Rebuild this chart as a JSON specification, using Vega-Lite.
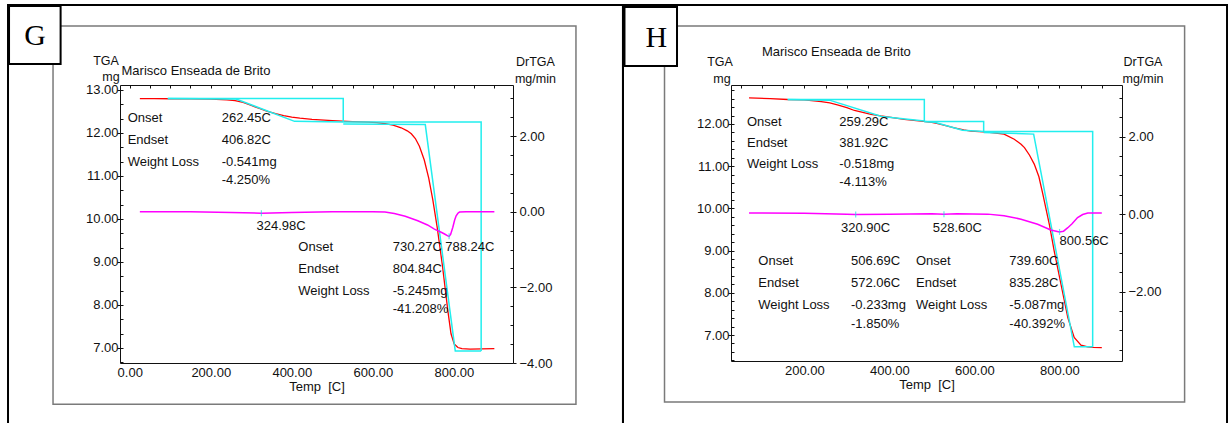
{
  "$schema": "https://vega.github.io/schema/vega-lite/v6.json",
  "background": "white",
  "autosize": {"type": "pad"},
  "padding": {"left": 6, "top": 3, "right": 0, "bottom": 0},
  "bounds": "flush",
  "spacing": 218,
  "config": {
    "view": {"stroke": "#111", "strokeWidth": 1},
    "axis": {"grid": false, "domain": false, "labelFont": "Liberation Sans", "labelFontSize": 13, "labelColor": "#111", "tickColor": "#111", "tickWidth": 1, "titleFont": "Liberation Sans", "titleFontSize": 13, "titleFontWeight": "normal", "titleColor": "#111", "labelFlush": false, "labelOverlap": false},
    "text": {"font": "Liberation Sans", "fontSize": 13, "color": "#111"}
  },
  "datasets": {
    "g_tga": [
      {"t": 25, "w": 12.8}, {"t": 60, "w": 12.8}, {"t": 100, "w": 12.795}, {"t": 150, "w": 12.79}, {"t": 200, "w": 12.785}, {"t": 240, "w": 12.77}, {"t": 260, "w": 12.75}, {"t": 280, "w": 12.71}, {"t": 300, "w": 12.64}, {"t": 320, "w": 12.57}, {"t": 340, "w": 12.5}, {"t": 360, "w": 12.45}, {"t": 380, "w": 12.405}, {"t": 400, "w": 12.37}, {"t": 420, "w": 12.345}, {"t": 450, "w": 12.315}, {"t": 500, "w": 12.285}, {"t": 550, "w": 12.265}, {"t": 590, "w": 12.25}, {"t": 610, "w": 12.24}, {"t": 630, "w": 12.215}, {"t": 650, "w": 12.18}, {"t": 670, "w": 12.12}, {"t": 685, "w": 12.05}, {"t": 695, "w": 11.98}, {"t": 705, "w": 11.87}, {"t": 715, "w": 11.69}, {"t": 727, "w": 11.37}, {"t": 738, "w": 10.95}, {"t": 748, "w": 10.45}, {"t": 759, "w": 9.8}, {"t": 772, "w": 8.9}, {"t": 785, "w": 7.88}, {"t": 793, "w": 7.33}, {"t": 801, "w": 7.09}, {"t": 810, "w": 7.01}, {"t": 820, "w": 6.985}, {"t": 840, "w": 6.975}, {"t": 870, "w": 6.98}, {"t": 900, "w": 6.985}
    ],
    "g_dr": [
      {"t": 25, "d": 0}, {"t": 150, "d": 0}, {"t": 250, "d": -0.02}, {"t": 325, "d": -0.04}, {"t": 400, "d": -0.02}, {"t": 500, "d": 0}, {"t": 600, "d": 0}, {"t": 630, "d": -0.01}, {"t": 653, "d": -0.05}, {"t": 680, "d": -0.12}, {"t": 711, "d": -0.24}, {"t": 735, "d": -0.35}, {"t": 752, "d": -0.46}, {"t": 770, "d": -0.55}, {"t": 777, "d": -0.59}, {"t": 785, "d": -0.64}, {"t": 788.2, "d": -0.65}, {"t": 792, "d": -0.6}, {"t": 797.5, "d": -0.41}, {"t": 802, "d": -0.22}, {"t": 805.7, "d": -0.11}, {"t": 810, "d": -0.04}, {"t": 814, "d": -0.01}, {"t": 830, "d": 0}, {"t": 900, "d": 0}
    ],
    "g_cyan": [
      {"s": 1, "i": 1, "t": 94, "w": 12.8}, {"s": 1, "i": 2, "t": 527, "w": 12.8}, {"s": 1, "i": 3, "t": 527, "w": 12.25},
      {"s": 2, "i": 1, "t": 94, "w": 12.8}, {"s": 2, "i": 2, "t": 262.45, "w": 12.79}, {"s": 2, "i": 3, "t": 406.82, "w": 12.27}, {"s": 2, "i": 4, "t": 527, "w": 12.255},
      {"s": 3, "i": 1, "t": 527, "w": 12.255}, {"s": 3, "i": 2, "t": 867.4, "w": 12.255}, {"s": 3, "i": 3, "t": 867.4, "w": 6.93},
      {"s": 4, "i": 1, "t": 527, "w": 12.21}, {"s": 4, "i": 2, "t": 729.5, "w": 12.195}, {"s": 4, "i": 3, "t": 803.5, "w": 6.93}, {"s": 4, "i": 4, "t": 867.4, "w": 6.93}
    ],
    "g_peaks": [{"t": 324.98, "d": -0.04}, {"t": 788.24, "d": -0.65}],
    "g_text": [
      {"t": -5, "w": 12.355, "label": "Onset"}, {"t": -5, "w": 11.836, "label": "Endset"}, {"t": -5, "w": 11.331, "label": "Weight Loss"},
      {"t": 227, "w": 12.355, "label": "262.45C"}, {"t": 227, "w": 11.836, "label": "406.82C"}, {"t": 227, "w": 11.331, "label": "-0.541mg"}, {"t": 227, "w": 10.906, "label": "-4.250%"},
      {"t": 312.9, "w": 9.836, "label": "324.98C"},
      {"t": 416.1, "w": 9.355, "label": "Onset"}, {"t": 416.1, "w": 8.843, "label": "Endset"}, {"t": 416.1, "w": 8.324, "label": "Weight Loss"},
      {"t": 649, "w": 9.355, "label": "730.27C"}, {"t": 649, "w": 8.843, "label": "804.84C"}, {"t": 649, "w": 8.324, "label": "-5.245mg"}, {"t": 649, "w": 7.899, "label": "-41.208%"},
      {"t": 778.8, "w": 9.355, "label": "788.24C"}
    ],
    "h_tga": [
      {"t": 70, "w": 12.62}, {"t": 120, "w": 12.6}, {"t": 161, "w": 12.58}, {"t": 200, "w": 12.57}, {"t": 240, "w": 12.53}, {"t": 260, "w": 12.5}, {"t": 280, "w": 12.45}, {"t": 300, "w": 12.39}, {"t": 318, "w": 12.32}, {"t": 340, "w": 12.27}, {"t": 357, "w": 12.23}, {"t": 380, "w": 12.19}, {"t": 396, "w": 12.17}, {"t": 435, "w": 12.11}, {"t": 475, "w": 12.07}, {"t": 500, "w": 12.04}, {"t": 514, "w": 12.01}, {"t": 533, "w": 11.96}, {"t": 553, "w": 11.91}, {"t": 575, "w": 11.86}, {"t": 592, "w": 11.83}, {"t": 631, "w": 11.81}, {"t": 670, "w": 11.76}, {"t": 694, "w": 11.64}, {"t": 710, "w": 11.52}, {"t": 718, "w": 11.44}, {"t": 730, "w": 11.26}, {"t": 741, "w": 11.05}, {"t": 752, "w": 10.75}, {"t": 761, "w": 10.35}, {"t": 777, "w": 9.6}, {"t": 788, "w": 8.99}, {"t": 804, "w": 8.2}, {"t": 820, "w": 7.41}, {"t": 835, "w": 6.94}, {"t": 851, "w": 6.76}, {"t": 867, "w": 6.72}, {"t": 880, "w": 6.705}, {"t": 900, "w": 6.7}
    ],
    "h_dr": [
      {"t": 70, "d": 0.03}, {"t": 200, "d": 0.02}, {"t": 300, "d": 0}, {"t": 320, "d": -0.01}, {"t": 400, "d": 0}, {"t": 500, "d": 0.01}, {"t": 528, "d": 0}, {"t": 560, "d": 0.01}, {"t": 632, "d": 0}, {"t": 670, "d": -0.04}, {"t": 710, "d": -0.13}, {"t": 749, "d": -0.26}, {"t": 780, "d": -0.41}, {"t": 800, "d": -0.46}, {"t": 810, "d": -0.44}, {"t": 820, "d": -0.35}, {"t": 830, "d": -0.25}, {"t": 843, "d": -0.09}, {"t": 855, "d": -0.01}, {"t": 867, "d": 0.03}, {"t": 900, "d": 0.03}
    ],
    "h_cyan": [
      {"s": 1, "i": 1, "t": 161, "w": 12.58}, {"s": 1, "i": 2, "t": 482.4, "w": 12.58}, {"s": 1, "i": 3, "t": 482.4, "w": 12.06},
      {"s": 2, "i": 1, "t": 161, "w": 12.58}, {"s": 2, "i": 2, "t": 259.29, "w": 12.565}, {"s": 2, "i": 3, "t": 381.92, "w": 12.18}, {"s": 2, "i": 4, "t": 482.4, "w": 12.07},
      {"s": 3, "i": 1, "t": 482.4, "w": 12.06}, {"s": 3, "i": 2, "t": 622, "w": 12.06}, {"s": 3, "i": 3, "t": 622, "w": 11.82},
      {"s": 4, "i": 1, "t": 482.4, "w": 12.06}, {"s": 4, "i": 2, "t": 506.69, "w": 12.04}, {"s": 4, "i": 3, "t": 572.06, "w": 11.85}, {"s": 4, "i": 4, "t": 622, "w": 11.82},
      {"s": 5, "i": 1, "t": 622, "w": 11.82}, {"s": 5, "i": 2, "t": 878.5, "w": 11.82}, {"s": 5, "i": 3, "t": 878.5, "w": 6.72},
      {"s": 6, "i": 1, "t": 622, "w": 11.8}, {"s": 6, "i": 2, "t": 739.6, "w": 11.76}, {"s": 6, "i": 3, "t": 835.28, "w": 6.72}, {"s": 6, "i": 4, "t": 878.5, "w": 6.72}
    ],
    "h_peaks": [{"t": 320.9, "d": -0.01}, {"t": 528.6, "d": 0}, {"t": 800.56, "d": -0.46}],
    "h_text": [
      {"t": 65.2, "w": 12.055, "label": "Onset"}, {"t": 65.2, "w": 11.557, "label": "Endset"}, {"t": 65.2, "w": 11.045, "label": "Weight Loss"},
      {"t": 282.4, "w": 12.055, "label": "259.29C"}, {"t": 282.4, "w": 11.557, "label": "381.92C"}, {"t": 282.4, "w": 11.045, "label": "-0.518mg"}, {"t": 282.4, "w": 10.626, "label": "-4.113%"},
      {"t": 286.4, "w": 9.543, "label": "320.90C"}, {"t": 502.1, "w": 9.543, "label": "528.60C"}, {"t": 800.7, "w": 9.228, "label": "800.56C"},
      {"t": 91.8, "w": 8.754, "label": "Onset"}, {"t": 91.8, "w": 8.239, "label": "Endset"}, {"t": 91.8, "w": 7.711, "label": "Weight Loss"},
      {"t": 309.9, "w": 8.754, "label": "506.69C"}, {"t": 309.9, "w": 8.239, "label": "572.06C"}, {"t": 309.9, "w": 7.711, "label": "-0.233mg"}, {"t": 309.9, "w": 7.254, "label": "-1.850%"},
      {"t": 462.8, "w": 8.754, "label": "Onset"}, {"t": 462.8, "w": 8.239, "label": "Endset"}, {"t": 462.8, "w": 7.711, "label": "Weight Loss"},
      {"t": 682.4, "w": 8.754, "label": "739.60C"}, {"t": 682.4, "w": 8.239, "label": "835.28C"}, {"t": 682.4, "w": 7.711, "label": "-5.087mg"}, {"t": 682.4, "w": 7.254, "label": "-40.392%"}
    ]
  },
  "hconcat": [
    {
      "width": 393, "height": 278,
      "resolve": {"scale": {"y": "independent"}, "axis": {"x": "independent", "y": "independent"}},
      "layer": [
        {"data": {"values": [{}]}, "mark": {"type": "rect", "fill": null, "stroke": "#000", "strokeWidth": 2},
         "encoding": {"x": {"datum": -300.4, "type": "quantitative", "scale": {"domain": [-24, 946], "nice": false, "zero": false}, "axis": null}, "x2": {"datum": 1217.4},
                      "y": {"datum": 14.976, "type": "quantitative", "scale": {"domain": [6.65, 13.115], "nice": false, "zero": false}, "axis": null}, "y2": {"datum": 4.836}}},
        {"data": {"values": [{}]}, "mark": {"type": "rect", "fill": null, "stroke": "#7a7a7a", "strokeWidth": 1.5},
         "encoding": {"x": {"datum": -189.3, "type": "quantitative", "scale": {"domain": [-24, 946], "nice": false, "zero": false}, "axis": null}, "x2": {"datum": 1101.4},
                      "y": {"datum": 14.487, "type": "quantitative", "scale": {"domain": [6.65, 13.115], "nice": false, "zero": false}, "axis": null}, "y2": {"datum": 5.69}}},
        {"data": {"values": [{}]}, "mark": {"type": "rect", "fill": "white", "stroke": "#000", "strokeWidth": 2},
         "encoding": {"x": {"datum": -297.9, "type": "quantitative", "scale": {"domain": [-24, 946], "nice": false, "zero": false}, "axis": null}, "x2": {"datum": -170.6},
                      "y": {"datum": 14.953, "type": "quantitative", "scale": {"domain": [6.65, 13.115], "nice": false, "zero": false}, "axis": null}, "y2": {"datum": 13.603}}},
        {"data": {"values": [{}]}, "mark": {"type": "text", "text": "G", "font": "Liberation Serif", "fontSize": 30, "align": "center", "baseline": "middle", "color": "#000"},
         "encoding": {"x": {"datum": -233.8, "type": "quantitative", "scale": {"domain": [-24, 946], "nice": false, "zero": false}, "axis": null},
                      "y": {"datum": 14.255, "type": "quantitative", "scale": {"domain": [6.65, 13.115], "nice": false, "zero": false}, "axis": null}}},
        {"data": {"values": [{}]}, "mark": {"type": "text", "text": "Marisco Enseada de Brito", "align": "left", "baseline": "middle"},
         "encoding": {"x": {"datum": -20.2, "type": "quantitative", "scale": {"domain": [-24, 946], "nice": false, "zero": false}, "axis": null},
                      "y": {"datum": 13.429, "type": "quantitative", "scale": {"domain": [6.65, 13.115], "nice": false, "zero": false}, "axis": null}}},
        {"data": {"values": [{}]}, "mark": {"type": "text", "text": "TGA", "align": "center", "baseline": "middle", "fontSize": 12.5},
         "encoding": {"x": {"datum": -58.5, "type": "quantitative", "scale": {"domain": [-24, 946], "nice": false, "zero": false}, "axis": null},
                      "y": {"datum": 13.67, "type": "quantitative", "scale": {"domain": [6.65, 13.115], "nice": false, "zero": false}, "axis": null}}},
        {"data": {"values": [{}]}, "mark": {"type": "text", "text": "mg", "align": "center", "baseline": "middle", "fontSize": 12.5},
         "encoding": {"x": {"datum": -46.2, "type": "quantitative", "scale": {"domain": [-24, 946], "nice": false, "zero": false}, "axis": null},
                      "y": {"datum": 13.31, "type": "quantitative", "scale": {"domain": [6.65, 13.115], "nice": false, "zero": false}, "axis": null}}},
        {"data": {"values": [{}]}, "mark": {"type": "text", "text": "DrTGA", "align": "center", "baseline": "middle", "fontSize": 12.5},
         "encoding": {"x": {"datum": 1001.4, "type": "quantitative", "scale": {"domain": [-24, 946], "nice": false, "zero": false}, "axis": null},
                      "y": {"datum": 13.65, "type": "quantitative", "scale": {"domain": [6.65, 13.115], "nice": false, "zero": false}, "axis": null}}},
        {"data": {"values": [{}]}, "mark": {"type": "text", "text": "mg/min", "align": "center", "baseline": "middle", "fontSize": 12.5},
         "encoding": {"x": {"datum": 1001.4, "type": "quantitative", "scale": {"domain": [-24, 946], "nice": false, "zero": false}, "axis": null},
                      "y": {"datum": 13.262, "type": "quantitative", "scale": {"domain": [6.65, 13.115], "nice": false, "zero": false}, "axis": null}}},
        {"data": {"name": "g_tga"}, "mark": {"type": "line", "color": "#ff0000", "strokeWidth": 1.3},
         "encoding": {"x": {"field": "t", "type": "quantitative", "scale": {"domain": [-24, 946], "nice": false, "zero": false},
                            "axis": {"values": [0, 200, 400, 600, 800], "format": ".2f", "ticks": false, "tickSize": 0, "labelPadding": 3, "title": "Temp\u00a0 [C]", "titlePadding": 1}},
                      "y": {"field": "w", "type": "quantitative", "scale": {"domain": [6.65, 13.115], "nice": false, "zero": false},
                            "axis": {"orient": "left", "values": [7, 8, 9, 10, 11, 12, 13], "format": ".2f", "tickSize": 3, "labelPadding": -1, "title": null}}}},
        {"data": {"name": "g_cyan"}, "mark": {"type": "line", "color": "#22eeee", "strokeWidth": 1.5},
         "encoding": {"x": {"field": "t", "type": "quantitative", "scale": {"domain": [-24, 946], "nice": false, "zero": false}, "axis": null},
                      "y": {"field": "w", "type": "quantitative", "scale": {"domain": [6.65, 13.115], "nice": false, "zero": false}, "axis": null},
                      "detail": {"field": "s"}, "order": {"field": "i"}}},
        {"data": {"name": "g_dr"}, "mark": {"type": "line", "color": "#ff00ff", "strokeWidth": 1.5},
         "encoding": {"x": {"field": "t", "type": "quantitative", "scale": {"domain": [-24, 946], "nice": false, "zero": false}, "axis": null},
                      "y": {"field": "d", "type": "quantitative", "scale": {"domain": [-4, 3.35], "nice": false, "zero": false},
                            "axis": {"orient": "right", "values": [-4, -2, 0, 2], "format": ".2f", "tickSize": 3, "labelPadding": 3, "title": null}}}},
        {"data": {"name": "g_peaks"}, "mark": {"type": "tick", "orient": "vertical", "size": 6, "thickness": 1.2, "color": "#22dddd"},
         "encoding": {"x": {"field": "t", "type": "quantitative", "scale": {"domain": [-24, 946], "nice": false, "zero": false}, "axis": null},
                      "y": {"field": "d", "type": "quantitative", "scale": {"domain": [-4, 3.35], "nice": false, "zero": false}, "axis": null}}},
        {"data": {"name": "g_text"}, "mark": {"type": "text", "align": "left", "baseline": "middle"},
         "encoding": {"x": {"field": "t", "type": "quantitative", "scale": {"domain": [-24, 946], "nice": false, "zero": false}, "axis": null},
                      "y": {"field": "w", "type": "quantitative", "scale": {"domain": [6.65, 13.115], "nice": false, "zero": false}, "axis": null},
                      "text": {"field": "label"}}},
        {"data": {"values": [{}]}, "mark": {"type": "point", "opacity": 0},
         "encoding": {"x": {"datum": 400, "type": "quantitative", "scale": {"domain": [-24, 946], "nice": false, "zero": false},
                            "axis": {"values": [0, 50, 100, 150, 200, 250, 300, 350, 400, 450, 500, 550, 600, 650, 700, 750, 800, 850, 900], "labels": false, "tickSize": -3, "title": null}},
                      "y": {"datum": 10, "type": "quantitative", "scale": {"domain": [6.65, 13.115], "nice": false, "zero": false}, "axis": null}}},
        {"data": {"values": [{}]}, "mark": {"type": "point", "opacity": 0},
         "encoding": {"x": {"datum": 400, "type": "quantitative", "scale": {"domain": [-24, 946], "nice": false, "zero": false}, "axis": null},
                      "y": {"datum": 10, "type": "quantitative", "scale": {"domain": [6.65, 13.115], "nice": false, "zero": false},
                            "axis": {"orient": "left", "values": [6.6667, 7, 7.3333, 7.6667, 8, 8.3333, 8.6667, 9, 9.3333, 9.6667, 10, 10.3333, 10.6667, 11, 11.3333, 11.6667, 12, 12.3333, 12.6667, 13], "labels": false, "tickSize": -3, "title": null}}}},
        {"data": {"values": [{}]}, "mark": {"type": "point", "opacity": 0},
         "encoding": {"x": {"datum": 400, "type": "quantitative", "scale": {"domain": [-24, 946], "nice": false, "zero": false}, "axis": null},
                      "y": {"datum": 0, "type": "quantitative", "scale": {"domain": [-4, 3.35], "nice": false, "zero": false},
                            "axis": {"orient": "right", "values": [-3.5, -3, -2.5, -2, -1.5, -1, -0.5, 0, 0.5, 1, 1.5, 2, 2.5, 3], "labels": false, "tickSize": -3, "title": null}}}}
      ]
    },
    {
      "width": 391, "height": 276,
      "resolve": {"scale": {"y": "independent"}, "axis": {"x": "independent", "y": "independent"}},
      "layer": [
        {"data": {"values": [{}]}, "mark": {"type": "rect", "fill": null, "stroke": "#000", "strokeWidth": 2},
         "encoding": {"x": {"datum": -226.6, "type": "quantitative", "scale": {"domain": [27.53, 947.5], "nice": false, "zero": false}, "axis": null}, "x2": {"datum": 1194.6},
                      "y": {"datum": 14.82, "type": "quantitative", "scale": {"domain": [6.384, 12.924], "nice": false, "zero": false}, "axis": null}, "y2": {"datum": 4.488}}},
        {"data": {"values": [{}]}, "mark": {"type": "rect", "fill": null, "stroke": "#7a7a7a", "strokeWidth": 1.5},
         "encoding": {"x": {"datum": -128.9, "type": "quantitative", "scale": {"domain": [27.53, 947.5], "nice": false, "zero": false}, "axis": null}, "x2": {"datum": 1094.8},
                      "y": {"datum": 14.322, "type": "quantitative", "scale": {"domain": [6.384, 12.924], "nice": false, "zero": false}, "axis": null}, "y2": {"datum": 5.412}}},
        {"data": {"values": [{}]}, "mark": {"type": "rect", "fill": "white", "stroke": "#000", "strokeWidth": 2},
         "encoding": {"x": {"datum": -223.1, "type": "quantitative", "scale": {"domain": [27.53, 947.5], "nice": false, "zero": false}, "axis": null}, "x2": {"datum": -99.5},
                      "y": {"datum": 14.773, "type": "quantitative", "scale": {"domain": [6.384, 12.924], "nice": false, "zero": false}, "axis": null}, "y2": {"datum": 13.374}}},
        {"data": {"values": [{}]}, "mark": {"type": "text", "text": "H", "font": "Liberation Serif", "fontSize": 30, "align": "center", "baseline": "middle", "color": "#000"},
         "encoding": {"x": {"datum": -148.2, "type": "quantitative", "scale": {"domain": [27.53, 947.5], "nice": false, "zero": false}, "axis": null},
                      "y": {"datum": 14.045, "type": "quantitative", "scale": {"domain": [6.384, 12.924], "nice": false, "zero": false}, "axis": null}}},
        {"data": {"values": [{}]}, "mark": {"type": "text", "text": "Marisco Enseada de Brito", "align": "left", "baseline": "middle"},
         "encoding": {"x": {"datum": 100.2, "type": "quantitative", "scale": {"domain": [27.53, 947.5], "nice": false, "zero": false}, "axis": null},
                      "y": {"datum": 13.713, "type": "quantitative", "scale": {"domain": [6.384, 12.924], "nice": false, "zero": false}, "axis": null}}},
        {"data": {"values": [{}]}, "mark": {"type": "text", "text": "TGA", "align": "center", "baseline": "middle", "fontSize": 12.5},
         "encoding": {"x": {"datum": 1.6, "type": "quantitative", "scale": {"domain": [27.53, 947.5], "nice": false, "zero": false}, "axis": null},
                      "y": {"datum": 13.469, "type": "quantitative", "scale": {"domain": [6.384, 12.924], "nice": false, "zero": false}, "axis": null}}},
        {"data": {"values": [{}]}, "mark": {"type": "text", "text": "mg", "align": "center", "baseline": "middle", "fontSize": 12.5},
         "encoding": {"x": {"datum": 6.4, "type": "quantitative", "scale": {"domain": [27.53, 947.5], "nice": false, "zero": false}, "axis": null},
                      "y": {"datum": 13.074, "type": "quantitative", "scale": {"domain": [6.384, 12.924], "nice": false, "zero": false}, "axis": null}}},
        {"data": {"values": [{}]}, "mark": {"type": "text", "text": "DrTGA", "align": "center", "baseline": "middle", "fontSize": 12.5},
         "encoding": {"x": {"datum": 996.9, "type": "quantitative", "scale": {"domain": [27.53, 947.5], "nice": false, "zero": false}, "axis": null},
                      "y": {"datum": 13.469, "type": "quantitative", "scale": {"domain": [6.384, 12.924], "nice": false, "zero": false}, "axis": null}}},
        {"data": {"values": [{}]}, "mark": {"type": "text", "text": "mg/min", "align": "center", "baseline": "middle", "fontSize": 12.5},
         "encoding": {"x": {"datum": 996.9, "type": "quantitative", "scale": {"domain": [27.53, 947.5], "nice": false, "zero": false}, "axis": null},
                      "y": {"datum": 13.074, "type": "quantitative", "scale": {"domain": [6.384, 12.924], "nice": false, "zero": false}, "axis": null}}},
        {"data": {"name": "h_tga"}, "mark": {"type": "line", "color": "#ff0000", "strokeWidth": 1.3},
         "encoding": {"x": {"field": "t", "type": "quantitative", "scale": {"domain": [27.53, 947.5], "nice": false, "zero": false},
                            "axis": {"values": [200, 400, 600, 800], "format": ".2f", "ticks": false, "tickSize": 0, "labelPadding": 3, "title": "Temp\u00a0 [C]", "titlePadding": 1}},
                      "y": {"field": "w", "type": "quantitative", "scale": {"domain": [6.384, 12.924], "nice": false, "zero": false},
                            "axis": {"orient": "left", "values": [7, 8, 9, 10, 11, 12], "format": ".2f", "tickSize": 3, "labelPadding": -1, "title": null}}}},
        {"data": {"name": "h_cyan"}, "mark": {"type": "line", "color": "#22eeee", "strokeWidth": 1.5},
         "encoding": {"x": {"field": "t", "type": "quantitative", "scale": {"domain": [27.53, 947.5], "nice": false, "zero": false}, "axis": null},
                      "y": {"field": "w", "type": "quantitative", "scale": {"domain": [6.384, 12.924], "nice": false, "zero": false}, "axis": null},
                      "detail": {"field": "s"}, "order": {"field": "i"}}},
        {"data": {"name": "h_dr"}, "mark": {"type": "line", "color": "#ff00ff", "strokeWidth": 1.5},
         "encoding": {"x": {"field": "t", "type": "quantitative", "scale": {"domain": [27.53, 947.5], "nice": false, "zero": false}, "axis": null},
                      "y": {"field": "d", "type": "quantitative", "scale": {"domain": [-3.791, 3.333], "nice": false, "zero": false},
                            "axis": {"orient": "right", "values": [-2, 0, 2], "format": ".2f", "tickSize": 3, "labelPadding": 3, "title": null}}}},
        {"data": {"name": "h_peaks"}, "mark": {"type": "tick", "orient": "vertical", "size": 6, "thickness": 1.2, "color": "#22dddd"},
         "encoding": {"x": {"field": "t", "type": "quantitative", "scale": {"domain": [27.53, 947.5], "nice": false, "zero": false}, "axis": null},
                      "y": {"field": "d", "type": "quantitative", "scale": {"domain": [-3.791, 3.333], "nice": false, "zero": false}, "axis": null}}},
        {"data": {"name": "h_text"}, "mark": {"type": "text", "align": "left", "baseline": "middle"},
         "encoding": {"x": {"field": "t", "type": "quantitative", "scale": {"domain": [27.53, 947.5], "nice": false, "zero": false}, "axis": null},
                      "y": {"field": "w", "type": "quantitative", "scale": {"domain": [6.384, 12.924], "nice": false, "zero": false}, "axis": null},
                      "text": {"field": "label"}}},
        {"data": {"values": [{}]}, "mark": {"type": "point", "opacity": 0},
         "encoding": {"x": {"datum": 400, "type": "quantitative", "scale": {"domain": [27.53, 947.5], "nice": false, "zero": false},
                            "axis": {"values": [50, 100, 150, 200, 250, 300, 350, 400, 450, 500, 550, 600, 650, 700, 750, 800, 850, 900], "labels": false, "tickSize": -3, "title": null}},
                      "y": {"datum": 10, "type": "quantitative", "scale": {"domain": [6.384, 12.924], "nice": false, "zero": false}, "axis": null}}},
        {"data": {"values": [{}]}, "mark": {"type": "point", "opacity": 0},
         "encoding": {"x": {"datum": 400, "type": "quantitative", "scale": {"domain": [27.53, 947.5], "nice": false, "zero": false}, "axis": null},
                      "y": {"datum": 10, "type": "quantitative", "scale": {"domain": [6.384, 12.924], "nice": false, "zero": false},
                            "axis": {"orient": "left", "values": [6.4, 6.6, 6.8, 7, 7.2, 7.4, 7.6, 7.8, 8, 8.2, 8.4, 8.6, 8.8, 9, 9.2, 9.4, 9.6, 9.8, 10, 10.2, 10.4, 10.6, 10.8, 11, 11.2, 11.4, 11.6, 11.8, 12, 12.2, 12.4, 12.6, 12.8], "labels": false, "tickSize": -3, "title": null}}}},
        {"data": {"values": [{}]}, "mark": {"type": "point", "opacity": 0},
         "encoding": {"x": {"datum": 400, "type": "quantitative", "scale": {"domain": [27.53, 947.5], "nice": false, "zero": false}, "axis": null},
                      "y": {"datum": 0, "type": "quantitative", "scale": {"domain": [-3.791, 3.333], "nice": false, "zero": false},
                            "axis": {"orient": "right", "values": [-3.5, -3, -2.5, -2, -1.5, -1, -0.5, 0, 0.5, 1, 1.5, 2, 2.5, 3], "labels": false, "tickSize": -3, "title": null}}}}
      ]
    }
  ]
}
